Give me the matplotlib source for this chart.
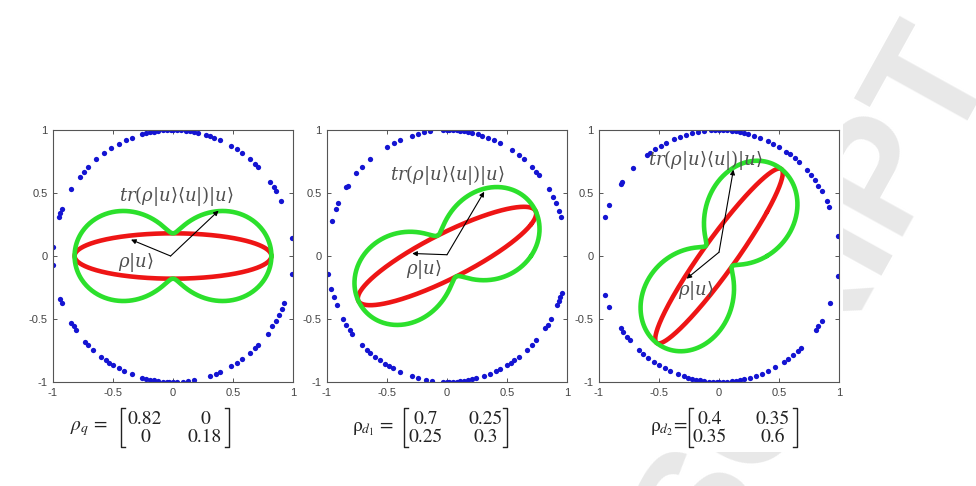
import numpy as np
import matplotlib
matplotlib.use("Agg")
import matplotlib.pyplot as plt
from matplotlib.lines import Line2D
from matplotlib.patches import Rectangle

plt.rcParams['mathtext.fontset'] = 'stix'

# density matrices of the three panels
rho_q = [[0.82, 0], [0, 0.18]]
rho_d1 = [[0.7, 0.25], [0.25, 0.3]]
rho_d2 = [[0.4, 0.35], [0.35, 0.6]]
matrices = [rho_q, rho_d1, rho_d2]
mat_names = [r'$\rho_q$ =', r'ρ$_{d_1}$ =', r'ρ$_{d_2}$=']

# sample vectors |u> on the unit circle (angles in degrees)
dots_1 = [8, 26, 31, 33, 36, 45, 47, 50, 55, 58, 61, 67, 70, 72, 74, 78, 80, 82, 84, 86,
          88, 90, 91, 93, 95, 97, 99, 101, 103, 105, 110, 113, 117, 121, 125, 130, 135, 138,
          141, 148, 158, 160, 162, 176, 184, 200, 202, 212, 214, 216, 223, 225, 228, 233,
          236, 238, 240, 243, 246, 250, 255, 257, 259, 261, 263, 265, 267, 268, 270, 272,
          275, 277, 280, 288, 291, 293, 299, 302, 305, 310, 313, 315, 322, 326, 329, 332,
          335, 338, 352]
dots_2 = [18, 21, 25, 28, 32, 40, 42, 45, 50, 53, 57, 64, 67, 70, 73, 75, 78, 80, 82, 84,
          85, 87, 89, 90, 92, 98, 101, 104, 107, 113, 116, 120, 130, 135, 139, 146, 147, 155,
          158, 164, 188, 195, 199, 203, 210, 213, 216, 218, 225, 228, 230, 233, 236, 239,
          241, 243, 247, 253, 256, 260, 263, 268, 270, 271, 273, 275, 276, 278, 280, 282,
          284, 288, 291, 294, 296, 300, 302, 304, 307, 312, 315, 318, 325, 327, 330, 337,
          339, 341, 343]
dots_3 = [9, 23, 26, 31, 34, 37, 40, 43, 48, 51, 54, 56, 60, 63, 66, 70, 73, 76, 78, 80,
          82, 84, 86, 88, 90, 92, 94, 97, 100, 103, 106, 109, 112, 116, 119, 122, 125, 127,
          136, 144, 145, 156, 162, 198, 204, 215, 217, 220, 222, 228, 231, 234, 237, 240,
          243, 246, 250, 253, 255, 257, 259, 261, 263, 265, 267, 269, 270, 272, 274, 276,
          278, 280, 282, 285, 288, 291, 294, 298, 303, 305, 308, 311, 313, 324, 326, 329,
          338, 351]
dots = [dots_1, dots_2, dots_3]

# arrow annotations: (vertex, head on red curve, head on green curve)
arrow_vertex = [(-0.02, 0.0), (0.0, 0.01), (0.0, 0.03)]
arrow_red = [(-0.35, 0.13), (-0.29, 0.02), (-0.27, -0.18)]
arrow_green = [(0.38, 0.36), (0.31, 0.51), (0.12, 0.685)]
label_tr = [(0.03, 0.48), (0.0, 0.64), (-0.11, 0.76)]
label_rho = [(-0.31, -0.05), (-0.19, -0.11), (-0.19, -0.27)]

ticks = [-1, -0.5, 0, 0.5, 1]
tick_labels = ['-1', '-0.5', '0', '0.5', '1']

W, H = 976, 486
fig = plt.figure(figsize=(W / 100, H / 100), dpi=100)
fx = lambda x: x / W
fy = lambda y: 1 - y / H

# faint watermark, hidden behind the white figure area
fig.text(fx(998), fy(67), 'ACCEPTED MANUSCRIPT', rotation=61, rotation_mode='anchor',
         ha='right', va='baseline', fontsize=115, fontweight='bold',
         family='Liberation Sans', color='#e8e8e8', zorder=0)
fig.add_artist(Rectangle((0, fy(452)), fx(843), fy(118) - fy(452),
                         transform=fig.transFigure, facecolor='white',
                         edgecolor='none', zorder=1))

axes_left = [53, 327, 599]
theta = np.linspace(0, 2 * np.pi, 721)
u = np.vstack([np.cos(theta), np.sin(theta)])

for i, ax_x in enumerate(axes_left):
    ax = fig.add_axes([fx(ax_x), fy(382), 240 / W, 252 / H], zorder=2)
    ax.set_facecolor('white')
    rho = np.array(matrices[i])

    ang = np.deg2rad(dots[i])
    ax.plot(np.cos(ang), np.sin(ang), 'o', color='#1414d2', markersize=3.8,
            markeredgewidth=0)

    # rho|u>
    red = rho @ u
    # tr(rho|u><u|)|u> = <u|rho|u> u
    q = np.sum(u * red, axis=0)
    green = q * u
    ax.plot(red[0], red[1], color='#ee1515', lw=3.3, solid_capstyle='round')
    ax.plot(green[0], green[1], color='#2ce02c', lw=3.3, solid_capstyle='round')

    v = arrow_vertex[i]
    for head in (arrow_red[i], arrow_green[i]):
        ax.annotate('', xy=head, xytext=v,
                    arrowprops=dict(arrowstyle='-|>', color='black', lw=0.8,
                                    mutation_scale=7, shrinkA=0, shrinkB=0))
    ax.text(*label_tr[i], r'$tr(\rho|u\rangle\langle u|)|u\rangle$', ha='center',
            va='center', fontsize=13, color='#505050', math_fontfamily='dejavuserif')
    ax.text(*label_rho[i], r'$\rho|u\rangle$', ha='center', va='center',
            fontsize=13, color='#505050', math_fontfamily='dejavuserif')

    ax.set_xlim(-1, 1)
    ax.set_ylim(-1, 1)
    ax.set_xticks(ticks)
    ax.set_yticks(ticks)
    ax.set_xticklabels(tick_labels)
    ax.set_yticklabels(tick_labels)
    ax.tick_params(direction='in', top=True, right=True, length=3, width=0.7,
                   color='#555555', labelsize=8, labelcolor='#444444', pad=4)
    for lab in ax.get_xticklabels() + ax.get_yticklabels():
        lab.set_family('Liberation Sans')
    for s in ax.spines.values():
        s.set_color('#555555')
        s.set_linewidth(0.8)

# matrix labels under each panel
eq_right = [108, 394, 687]
bracket_l = [121, 404, 689]
bracket_r = [229, 507, 797]
col1 = [145, 426, 710]
col2 = [205, 486, 773]
row_y = [419, 437]
for i in range(3):
    fig.text(fx(eq_right[i]), fy(429), mat_names[i], ha='right', va='center',
             fontsize=14, family='STIXGeneral', color='#222222', zorder=3)
    for r in range(2):
        for c, cx in enumerate((col1[i], col2[i])):
            fig.text(fx(cx), fy(row_y[r]), '{:g}'.format(matrices[i][r][c]), ha='center',
                     va='center', fontsize=14, family='STIXGeneral', color='#222222',
                     zorder=3)
    for bx, d in ((bracket_l[i], 4), (bracket_r[i], -4)):
        fig.add_artist(Line2D([fx(bx + d), fx(bx), fx(bx), fx(bx + d)],
                              [fy(408), fy(408), fy(447), fy(447)],
                              transform=fig.transFigure, color='#222222', lw=1.0,
                              zorder=3))

fig.savefig('out.png', dpi=100)
